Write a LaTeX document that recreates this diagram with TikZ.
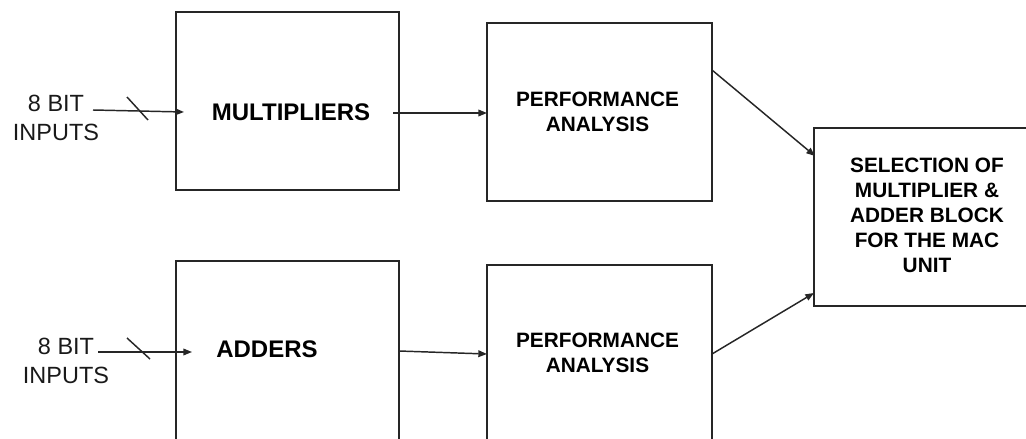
\documentclass[tikz,border=0pt]{standalone}
\usepackage{fontspec}
\setmainfont{Liberation Sans}
\usetikzlibrary{arrows.meta}
\begin{document}
\begin{tikzpicture}[x=0.75pt,y=-0.75pt,
  box/.style={draw=black!85,line width=1.1pt,anchor=north west,inner sep=0pt,outer sep=0pt},
  bigtxt/.style={font=\bfseries\fontsize{18}{21}\selectfont,inner sep=0pt,align=center},
  midtxt/.style={font=\bfseries\fontsize{15.6}{18.75}\selectfont,inner sep=0pt,align=center},
  intxt/.style={font=\fontsize{17.6}{21.75}\selectfont,inner sep=0pt,align=center,text=black!90},
  conn/.style={draw=black!85,line width=1.1pt,-{Triangle[length=6.5pt,width=5pt]}},
  tick/.style={draw=black!85,line width=1.1pt}]
\useasboundingbox (0,0) rectangle (1026,439);
% boxes
\node[box,minimum width=167.25pt,minimum height=133.5pt] (mult) at (176,12) {};
\node[box,minimum width=168.75pt,minimum height=133.5pt] (perfA) at (487,23) {};
\node[box,minimum width=167.25pt,minimum height=150pt] (add) at (176,261) {};
\node[box,minimum width=168.75pt,minimum height=150pt] (perfB) at (487,265) {};
\node[box,minimum width=172.5pt,minimum height=133.5pt] (sel) at (814,128) {};
% texts
\node[bigtxt] (multT) at (291,112.5) {MULTIPLIERS};
\node[bigtxt] (addT) at (267,349.5) {ADDERS};
\node[midtxt] (perfAT) at (597.5,112) {PERFORMANCE\\ANALYSIS};
\node[midtxt] (perfBT) at (597.5,353) {PERFORMANCE\\ANALYSIS};
\node[midtxt] (selT) at (927,215.5) {SELECTION OF\\MULTIPLIER \&\\ADDER BLOCK\\FOR THE MAC\\UNIT};
\node[intxt] (inA) at (56,118) {8 BIT\\INPUTS};
\node[intxt] (inB) at (66,361) {8 BIT\\INPUTS};
% connector end points
\coordinate (inAs) at (93,110);
\coordinate (inAe) at (184,112);
\coordinate (inBs) at (98,352);
\coordinate (inBe) at (192,352);
\coordinate (tAa) at (127,97);
\coordinate (tAb) at (148,120);
\coordinate (tBa) at (127,338);
\coordinate (tBb) at (150,359);
\coordinate (mOut) at (393,113);
\coordinate (pAIn) at (487,113);
\coordinate (aOut) at (399,351);
\coordinate (pBIn) at (487,354);
\coordinate (pAOut) at (712,70);
\coordinate (sInA) at (815,156);
\coordinate (pBOut) at (712,354);
\coordinate (sInB) at (814,293);
% connectors
\draw[conn] (inAs) -- (inAe);
\draw[tick] (tAa) -- (tAb);
\draw[conn] (inBs) -- (inBe);
\draw[tick] (tBa) -- (tBb);
\draw[conn] (mOut) -- (pAIn);
\draw[conn] (aOut) -- (pBIn);
\draw[conn] (pAOut) -- (sInA);
\draw[conn] (pBOut) -- (sInB);
\end{tikzpicture}
\end{document}
